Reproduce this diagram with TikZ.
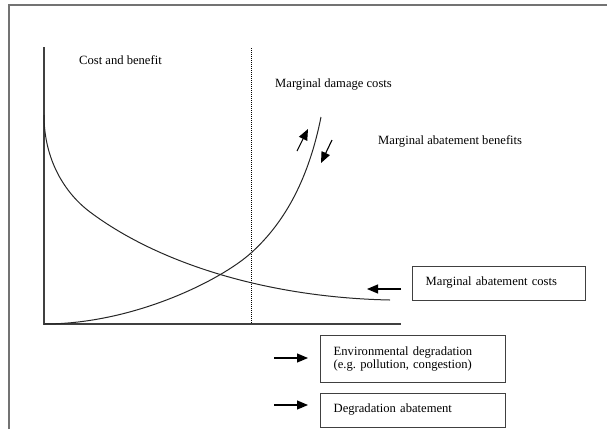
\documentclass[tikz,border=0pt]{standalone}
\usepackage{fontspec}
\setmainfont{Liberation Serif}
\usetikzlibrary{arrows.meta}
\frenchspacing
\begin{document}
\begin{tikzpicture}[x=1pt,y=-1pt,
  lbl/.style={inner sep=0pt,anchor=base west,font=\fontsize{12.6}{13.3}\selectfont},
  box/.style={draw=black!75,line width=1.4pt,anchor=north west,align=left,
    inner xsep=13pt,inner ysep=0pt,font=\fontsize{12.6}{13.3}\selectfont},
  pointer/.style={line width=1.1pt,-{Triangle[length=11pt,width=9pt]}},
  curve/.style={line width=1pt,black!85},
  axis/.style={line width=1.6pt,black!75}]
\useasboundingbox (0,0) rectangle (607,429);

% outer frame (top and left edges)
\draw[line width=2pt,black!55] (9,429) -- (9,5) -- (607,5);

% axes and the dotted reference level
\draw[axis] (44,47) -- (44,324) -- (401,324);
\draw[line width=0.8pt,dash pattern=on 1pt off 1pt] (251,48) -- (251,324);

% marginal damage costs (rising)
\draw[curve] (44,324) .. controls (134,324) and (221,280) .. (251,253)
  .. controls (286,221.5) and (309,177) .. (321,117);
% marginal abatement costs (falling)
\draw[curve] (44,115) .. controls (44,160) and (65,193.25) .. (90,212)
  .. controls (160,264.5) and (270,297.6) .. (390,300);

% labels
\node[lbl] (cb)  at (79,64)  {Cost and benefit};
\node[lbl] (mdc) at (275,87) {Marginal damage costs};
\node[lbl] (mab) at (378,144) {Marginal abatement benefits};

% boxes
\node[box,text width=147pt,minimum height=34pt,text depth=5pt] (mac) at (412,266) {Marginal abatement costs};
\node[box,text width=159pt,minimum height=47pt] (env) at (320,335) {Environmental degradation\\(e.g. pollution, congestion)};
\node[box,text width=159pt,minimum height=34pt,text depth=5pt] (deg) at (320,393) {Degradation abatement};

% arrows
\coordinate (upTail) at (297,151);
\coordinate (upTip)  at (308,129);
\coordinate (dnTail) at (332,140);
\coordinate (dnTip)  at (321,163);
\coordinate (macTail) at (401,289);
\coordinate (macTip)  at (367,289);
\coordinate (envTail) at (274,358);
\coordinate (envTip)  at (308,358);
\coordinate (degTail) at (274,405);
\coordinate (degTip)  at (308,405);
\draw[pointer] (upTail) -- (upTip);
\draw[pointer] (dnTail) -- (dnTip);
\draw[pointer] (macTail) -- (macTip);
\draw[pointer] (envTail) -- (envTip);
\draw[pointer] (degTail) -- (degTip);
\end{tikzpicture}
\end{document}
